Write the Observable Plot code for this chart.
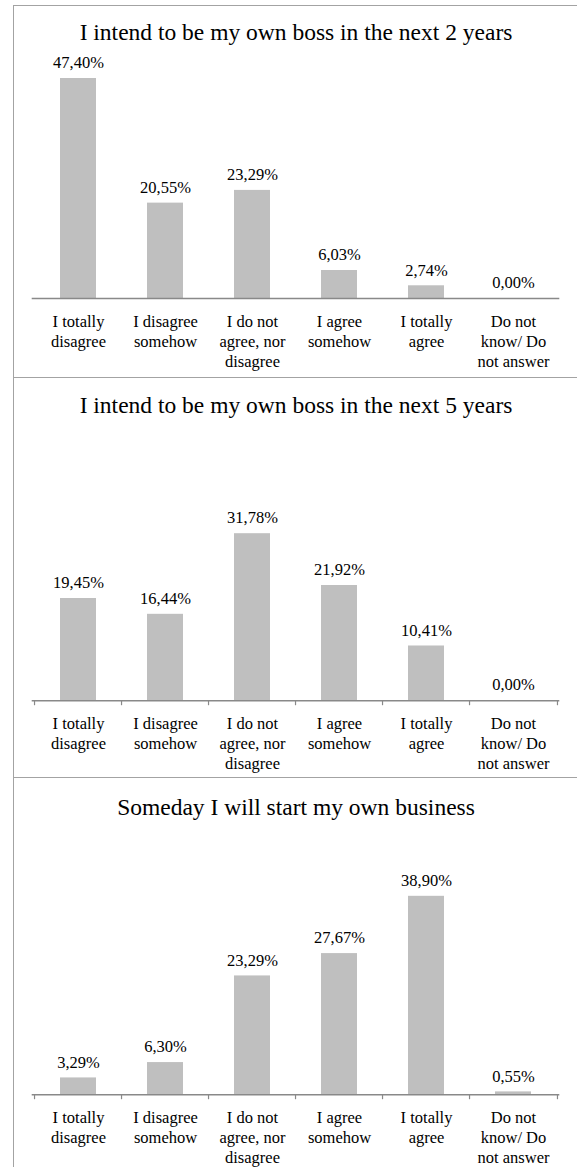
<!DOCTYPE html>
<html>
<head>
<meta charset="utf-8">
<script src="https://cdn.jsdelivr.net/npm/d3@7"></script>
<script src="https://cdn.jsdelivr.net/npm/@observablehq/plot@0.6"></script>
<style>
  html, body { margin: 0; padding: 0; background: #fff; overflow: hidden; width: 577px; height: 1167px; }
  .holder { position: absolute; left: 0; width: 577px; }
  .holder svg { position: absolute; left: 0; top: 0; background: transparent !important; overflow: visible; }
  .border { position: absolute; left: 12.5px; width: 600px; border-left: 1.4px solid #a3a3a3; border-top: 1.4px solid #a3a3a3; box-sizing: border-box; z-index: 2; }
</style>
</head>
<body>
<script>
// ---- data ----
const categories = [
  "I totally\ndisagree",
  "I disagree\nsomehow",
  "I do not\nagree, nor\ndisagree",
  "I agree\nsomehow",
  "I totally\nagree",
  "Do not\nknow/ Do\nnot answer"
];
const titles = [
  "I intend to be my own boss in the next 2 years",
  "I intend to be my own boss in the next 5 years",
  "Someday I will start my own business"
];
const values2Years = [47.40, 20.55, 23.29, 6.03, 2.74, 0.00];
const values5Years = [19.45, 16.44, 31.78, 21.92, 10.41, 0.00];
const valuesSomeday = [3.29, 6.30, 23.29, 27.67, 38.90, 0.55];
const yMaxima = [50, 35, 45];

// ---- layout (page coordinates) ----
const layout = [
  {top: 6,     height: 371.5, axisY: 298,    pxPer: 4.641, titleY: 32,    ticks: false},
  {top: 377.5, height: 400,   axisY: 699.7,  pxPer: 5.255, titleY: 404.5, ticks: true},
  {top: 777.5, height: 390,   axisY: 1093.7, pxPer: 5.10,  titleY: 806,   ticks: true}
];
const series = [values2Years, values5Years, valuesSomeday];
const marginLeft = 31.7, marginRight = 17.7, W = 577;
const step = (W - marginLeft - marginRight) / categories.length;
const barColor = "#bfbfbf", axisColor = "#898989";
const fmt = v => v.toFixed(2).replace(".", ",") + "%";
const serif = "'Liberation Serif', Tinos, 'Times New Roman', Times, 'DejaVu Serif', 'Noto Serif', FreeSerif, serif";

layout.forEach((L, i) => {
  const data = categories.map((c, j) => ({cat: c, value: series[i][j]}));
  const yMax = yMaxima[i];
  const axisInSvg = L.axisY - L.top;
  const marginTop = axisInSvg - yMax * L.pxPer;
  const marginBottom = L.height - axisInSvg;
  const tickLen = 5 / L.pxPer;

  const marks = [
    Plot.barY(data, {x: "cat", y: "value", fill: barColor}),
    Plot.ruleY([0], {stroke: axisColor, strokeWidth: 1.6}),
    Plot.text(data, {x: "cat", y: "value", text: d => fmt(d.value), dy: -15.5, fontSize: 16.5, fontFamily: serif, lineAnchor: "middle"}),
    Plot.text(categories, {x: d => d, frameAnchor: "bottom", dy: 14.3, lineAnchor: "top", lineHeight: 1.212, fontSize: 16.5, fontFamily: serif, textAnchor: "middle"}),
    Plot.text([titles[i]], {frameAnchor: "top", dy: L.titleY - L.top - marginTop, fontSize: 23.5, fontFamily: serif, lineAnchor: "middle", textAnchor: "middle"})
  ];
  if (L.ticks) {
    marks.push(Plot.ruleX(categories, {x: d => d, dx: -step / 2, y1: 0, y2: -tickLen, stroke: axisColor, strokeWidth: 1.2}));
    marks.push(Plot.ruleX([categories[categories.length - 1]], {x: d => d, dx: step / 2, y1: 0, y2: -tickLen, stroke: axisColor, strokeWidth: 1.2}));
  }

  const svg = Plot.plot({
    width: W,
    height: L.height,
    marginLeft, marginRight, marginTop, marginBottom,
    x: {domain: categories, axis: null, paddingInner: 0.59, paddingOuter: 0.295},
    y: {domain: [0, yMax], axis: null},
    style: {fontFamily: serif, background: "transparent", overflow: "visible", color: "#000"},
    marks
  });
  svg.style.setProperty("font-family", serif);
  svg.querySelectorAll("text, tspan, g").forEach(el => {
    el.style.setProperty("font-family", serif, "important");
  });

  const holder = document.createElement("div");
  holder.className = "holder";
  holder.style.top = L.top + "px";
  holder.style.height = L.height + "px";
  holder.appendChild(svg);
  document.body.appendChild(holder);

  const border = document.createElement("div");
  border.className = "border";
  border.style.top = (L.top - 0.7) + "px";
  border.style.height = (i === 2 ? 1167 - L.top + 2 : L.height + 0.7) + "px";
  document.body.appendChild(border);
});
</script>
</body>
</html>
